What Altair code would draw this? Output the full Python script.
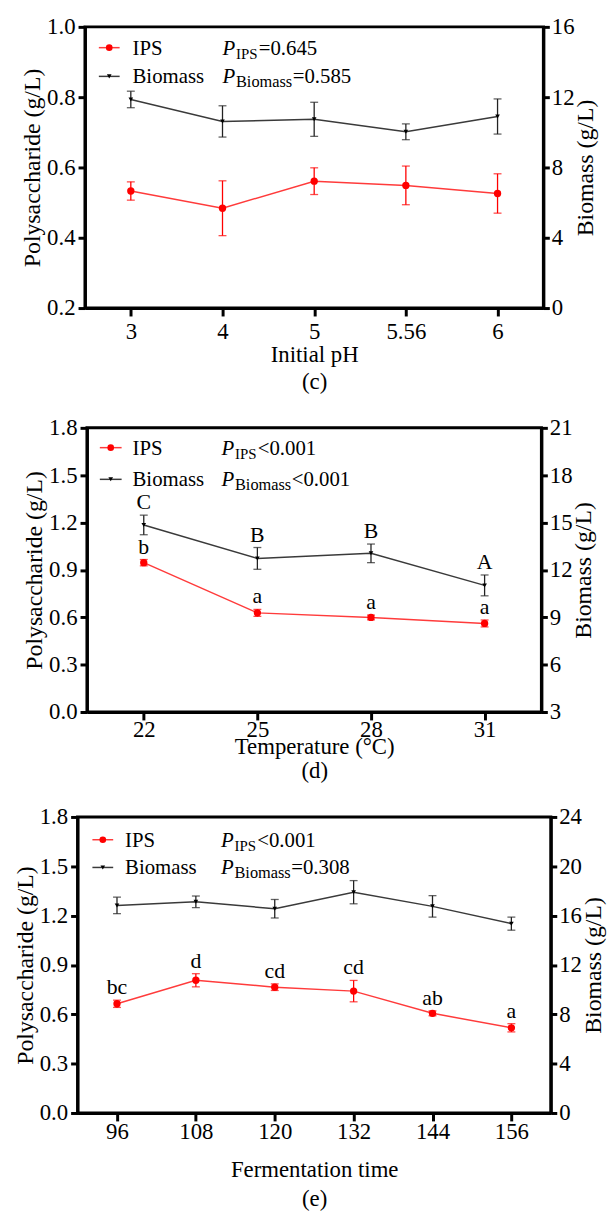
import altair as alt
import pandas as pd

FONT = "Liberation Serif"
RED = "#ff0000"
RED_LINE = "#ff3b3b"
DARK = "#222222"
DARK_LINE = "#3a3a3a"

# ---------------- Panel (c): initial pH ----------------
ph_labels = ["3", "4", "5", "5.56", "6"]
ph_ips = [0.533, 0.484, 0.561, 0.549, 0.526]
ph_ips_err = [0.026, 0.078, 0.038, 0.055, 0.056]
ph_bio = [11.87, 10.62, 10.74, 10.03, 10.90]
ph_bio_err = [0.47, 0.89, 0.97, 0.45, 1.00]

# ---------------- Panel (d): temperature ----------------
temp_labels = ["22", "25", "28", "31"]
temp_ips = [0.946, 0.628, 0.599, 0.561]
temp_ips_err = [0.020, 0.022, 0.015, 0.022]
temp_bio = [14.85, 12.73, 13.05, 11.02]
temp_bio_err = [0.62, 0.69, 0.59, 0.66]
temp_ips_letters = ["b", "a", "a", "a"]
temp_bio_letters = ["C", "B", "B", "A"]

# ---------------- Panel (e): fermentation time ----------------
time_labels = ["96", "108", "120", "132", "144", "156"]
time_ips = [0.664, 0.807, 0.765, 0.741, 0.606, 0.518]
time_ips_err = [0.022, 0.040, 0.020, 0.065, 0.015, 0.025]
time_bio = [16.83, 17.12, 16.56, 17.90, 16.75, 15.35]
time_bio_err = [0.67, 0.47, 0.75, 0.94, 0.87, 0.53]
time_ips_letters = ["bc", "d", "cd", "cd", "ab", "a"]

# legend / statistics text
p_ips_c, p_bio_c = "=0.645", "=0.585"
p_ips_d, p_bio_d = "<0.001", "<0.001"
p_ips_e, p_bio_e = "<0.001", "=0.308"

TIMES_W = {"P": 0.611, "I": 0.333, "S": 0.556, "B": 0.667, "i": 0.278, "o": 0.5,
           "m": 0.778, "a": 0.444, "s": 0.389}


def text_w(s, size):
    return sum(TIMES_W.get(ch, 0.5) for ch in s) * size


def panel(cats, ips, ips_err, bio, bio_err, ips_letters, bio_letters,
          left_dom, left_ticks, right_dom, right_ticks, xtitle,
          w, h, leg, p_ips, p_bio, xlab_pad, xtitle_pad, xtitle_lh):
    df = pd.DataFrame({
        "x": cats,
        "ips": ips,
        "ips_lo": [v - e for v, e in zip(ips, ips_err)],
        "ips_hi": [v + e for v, e in zip(ips, ips_err)],
        "bio": bio,
        "bio_lo": [v - e for v, e in zip(bio, bio_err)],
        "bio_hi": [v + e for v, e in zip(bio, bio_err)],
        "ips_l": ips_letters if ips_letters else [""] * len(cats),
        "bio_l": bio_letters if bio_letters else [""] * len(cats),
    })
    one = pd.DataFrame({"d": [0]})

    xaxis = alt.Axis(title=xtitle, labelAngle=0, tickSize=8, tickWidth=3, domainWidth=3,
                     domainColor="black", tickColor="black", labelFontSize=23,
                     titleFontSize=23, titleFontWeight="normal", labelPadding=xlab_pad,
                     titlePadding=xtitle_pad, titleLineHeight=xtitle_lh, labelColor="black",
                     titleColor="black", labelFont=FONT, titleFont=FONT)
    X = alt.X("x:N", sort=cats, scale=alt.Scale(type="point", padding=0.5), axis=xaxis)

    laxis = alt.Axis(title="Polysaccharide (g/L)", values=left_ticks, format=".1f",
                     orient="left", tickSize=7, tickWidth=3, domainWidth=3, grid=False,
                     domainColor="black", tickColor="black", labelFontSize=23,
                     titleFontSize=24, titleFontWeight="normal", labelPadding=3,
                     titlePadding=2, labelOverlap=False, labelFlush=False,
                     labelColor="black", titleColor="black", labelFont=FONT, titleFont=FONT)
    raxis = alt.Axis(title="Biomass (g/L)", values=right_ticks, format="d",
                     orient="right", tickSize=6, tickWidth=3, domainWidth=3, grid=False,
                     domainColor="black", tickColor="black", labelFontSize=23,
                     titleFontSize=24, titleFontWeight="normal", labelPadding=2,
                     titlePadding=0, titleAngle=270, titleBaseline="top",
                     labelOverlap=False, labelFlush=False,
                     labelColor="black", titleColor="black", labelFont=FONT, titleFont=FONT)
    lsc = alt.Scale(domain=left_dom, nice=False, zero=False)
    rsc = alt.Scale(domain=right_dom, nice=False, zero=False)

    def LY(f):
        return alt.Y(f, type="quantitative", scale=lsc, axis=laxis)

    def RY(f):
        return alt.Y(f, type="quantitative", scale=rsc, axis=raxis)

    base = alt.Chart(df)
    left_layers = [
        base.mark_line(color=RED_LINE, strokeWidth=1.5).encode(x=X, y=LY("ips")),
        base.mark_rule(color=RED, strokeWidth=1.3).encode(x=X, y=LY("ips_lo"), y2="ips_hi"),
        base.mark_tick(color=RED, size=8, thickness=1.3).encode(x=X, y=LY("ips_lo")),
        base.mark_tick(color=RED, size=8, thickness=1.3).encode(x=X, y=LY("ips_hi")),
        base.mark_point(shape="circle", filled=True, opacity=1, color=RED, size=55).encode(x=X, y=LY("ips")),
    ]
    if ips_letters:
        left_layers.append(
            base.mark_text(baseline="alphabetic", dy=-6, font=FONT, fontSize=22, color="black")
            .encode(x=X, y=LY("ips_hi"), text="ips_l:N"))
    right_layers = [
        base.mark_line(color=DARK_LINE, strokeWidth=1.5).encode(x=X, y=RY("bio")),
        base.mark_rule(color=DARK, strokeWidth=1.3).encode(x=X, y=RY("bio_lo"), y2="bio_hi"),
        base.mark_tick(color=DARK, size=8, thickness=1.3).encode(x=X, y=RY("bio_lo")),
        base.mark_tick(color=DARK, size=8, thickness=1.3).encode(x=X, y=RY("bio_hi")),
        base.mark_point(shape="triangle-down", filled=True, opacity=1, color="black", size=22).encode(x=X, y=RY("bio")),
    ]
    if bio_letters:
        right_layers.append(
            base.mark_text(baseline="alphabetic", dy=-6, font=FONT, fontSize=22, color="black")
            .encode(x=X, y=RY("bio_hi"), text="bio_l:N"))

    # legend block (positions in pixels inside the plot area)
    lx0, lx1, tx, px, r1, r2 = leg
    c1 = alt.Chart(one)
    legend = []
    for ry, col, shp, sz, name, sub, pv in [
        (r1, RED, "circle", 45, "IPS", "IPS", p_ips),
        (r2, "black", "triangle-down", 22, "Biomass", "Biomass", p_bio),
    ]:
        lcol = RED_LINE if col == RED else DARK_LINE
        base_y = ry + 7
        legend.append(c1.mark_rule(color=lcol, strokeWidth=1.5).encode(
            x=alt.value(lx0), x2=alt.value(lx1), y=alt.value(ry)))
        legend.append(c1.mark_point(shape=shp, filled=True, opacity=1, color=col, size=sz).encode(
            x=alt.value((lx0 + lx1) / 2), y=alt.value(ry)))
        legend.append(c1.mark_text(text=name, align="left", baseline="alphabetic", font=FONT,
                                   fontSize=21, color="black").encode(
            x=alt.value(tx), y=alt.value(base_y)))
        legend.append(c1.mark_text(text="P", align="left", baseline="alphabetic", font=FONT,
                                   fontSize=21, fontStyle="italic", color="black").encode(
            x=alt.value(px), y=alt.value(base_y)))
        subsize = 15 if sub == "IPS" else 16.5
        sx = px + 13.5
        legend.append(c1.mark_text(text=sub, align="left", baseline="alphabetic", font=FONT,
                                   fontSize=subsize, color="black").encode(
            x=alt.value(sx), y=alt.value(base_y + 4)))
        legend.append(c1.mark_text(text=pv, align="left", baseline="alphabetic", font=FONT,
                                   fontSize=21, color="black").encode(
            x=alt.value(sx + text_w(sub, subsize) + 0.5), y=alt.value(base_y)))

    left = alt.layer(*left_layers)
    right = alt.layer(*right_layers)
    return alt.layer(left, right, *legend).resolve_scale(y="independent").properties(
        width=w, height=h)


pc = panel(ph_labels, ph_ips, ph_ips_err, ph_bio, ph_bio_err, None, None,
           [0.2, 1.0], [0.2, 0.4, 0.6, 0.8, 1.0], [0, 16], [0, 4, 8, 12, 16],
           ["Initial pH", "(c)"], 463, 284, (14, 35, 48, 139, 21, 50),
           p_ips_c, p_bio_c, 5, 0, 27)
pd_ = panel(temp_labels, temp_ips, temp_ips_err, temp_bio, temp_bio_err,
            temp_ips_letters, temp_bio_letters,
            [0, 1.8], [0, 0.3, 0.6, 0.9, 1.2, 1.5, 1.8], [3, 21], [3, 6, 9, 12, 15, 18, 21],
            ["Temperature (°C)", "(d)"], 459, 287, (13, 35, 46, 136, 20, 52),
            p_ips_d, p_bio_d, -1, -6, 24)
pe = panel(time_labels, time_ips, time_ips_err, time_bio, time_bio_err,
           time_ips_letters, None,
           [0, 1.8], [0, 0.3, 0.6, 0.9, 1.2, 1.5, 1.8], [0, 24], [0, 4, 8, 12, 16, 20, 24],
           ["Fermentation time", "(e)"], 478, 299, (15, 36, 48, 145, 23, 51),
           p_ips_e, p_bio_e, 0, 15, 29)

chart = alt.vconcat(pc, pd_, pe, spacing=20, center=True).properties(
    padding={"left": 4, "top": 0, "right": 0, "bottom": 0}
).configure(font=FONT).configure_axis(
    labelFont=FONT, titleFont=FONT
).configure_text(font=FONT).configure_view(stroke="black", strokeWidth=3)

chart.save("out.html", embed_options={"renderer": "svg", "actions": False})
